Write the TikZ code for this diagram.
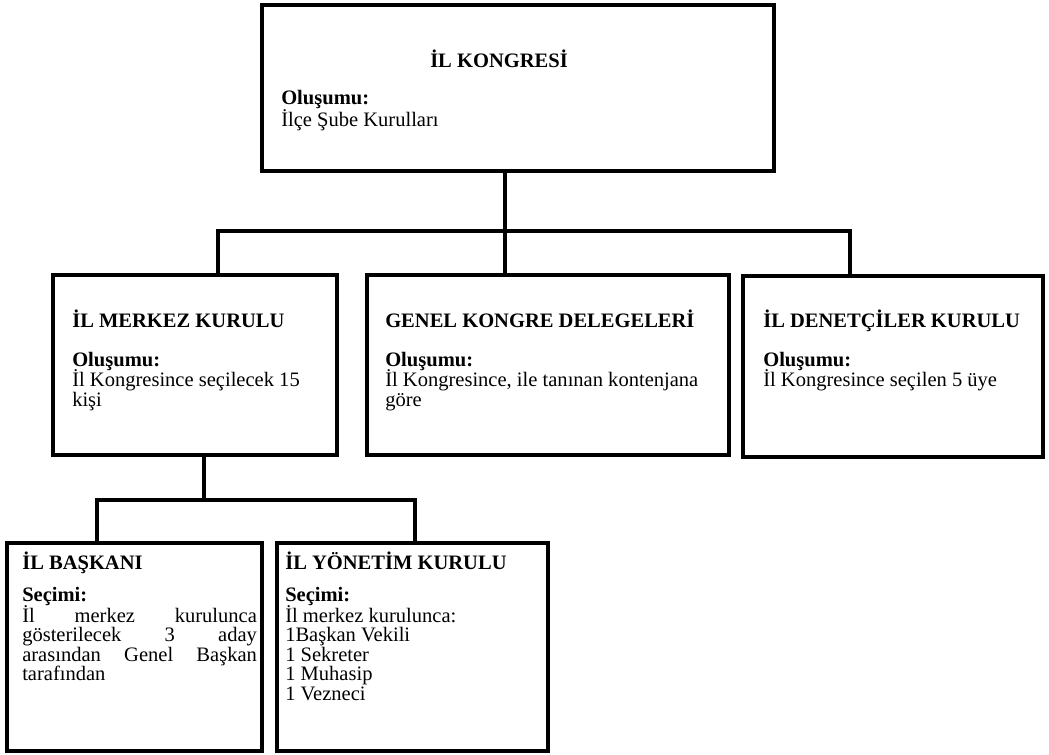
\documentclass[tikz,border=0pt]{standalone}
\usepackage{fontspec}
\setmainfont{Liberation Serif}
\usetikzlibrary{fit}
\begin{document}
\begin{tikzpicture}[x=0.75pt,y=-0.75pt,
  box/.style={draw, line width=2.3pt, inner sep=0pt},
  conn/.style={draw, line width=2.3pt},
  ttl/.style={font=\fontsize{15.4}{17}\selectfont\bfseries, anchor=base west, inner sep=0pt},
  lbl/.style={font=\fontsize{15.4}{17}\selectfont\bfseries, anchor=base west, inner sep=0pt},
  txt/.style={font=\fontsize{15.4}{17}\selectfont, anchor=base west, inner sep=0pt}
]
\useasboundingbox[fill=white] (0,0) rectangle (1049,754);

% boxes
\node[box, line width=3pt, fit={(262,5) (774,171)}] (top) {};
\node[box, fit={(53,275) (337,455)}] (mk) {};
\node[box, fit={(367,275) (729,455)}] (gk) {};
\node[box, fit={(743,276) (1043,457)}] (dk) {};
\node[box, fit={(7,543) (262,751)}] (bs) {};
\node[box, fit={(277,543) (548,751)}] (yk) {};

% texts: top
\node[ttl, anchor=base] (t0) at (499,67) {İL KONGRESİ};
\node[lbl] (t0a) at (281,104) {Oluşumu:};
\node[txt] (t0b) at (281,126) {İlçe Şube Kurulları};

% il merkez kurulu
\node[ttl] (t1) at (72,327) {İL MERKEZ KURULU};
\node[lbl] (t1a) at (72,366) {Oluşumu:};
\node[txt] (t1b) at (72,386) {İl Kongresince seçilecek 15};
\node[txt] (t1c) at (72,406) {kişi};

% genel kongre delegeleri
\node[ttl] (t2) at (385,327) {GENEL KONGRE DELEGELERİ};
\node[lbl] (t2a) at (385,366) {Oluşumu:};
\node[txt] (t2b) at (385,386) {İl Kongresince, ile tanınan kontenjana};
\node[txt] (t2c) at (385,406) {göre};

% il denetciler kurulu
\node[ttl] (t3) at (763,327) {İL DENETÇİLER KURULU};
\node[lbl] (t3a) at (763,366) {Oluşumu:};
\node[txt] (t3b) at (763,386) {İl Kongresince seçilen 5 üye};

% il baskani
\node[ttl] (t4) at (22,569) {İL BAŞKANI};
\node[lbl] (t4a) at (22,601) {Seçimi:};
\node[txt] (t4b) at (22,622) {\makebox[176pt][s]{İl merkez kurulunca}};
\node[txt] (t4c) at (22,641.5) {\makebox[176pt][s]{gösterilecek 3 aday}};
\node[txt] (t4d) at (22,661) {\makebox[176pt][s]{arasından Genel Başkan}};
\node[txt] (t4e) at (22,680.5) {tarafından};

% il yonetim kurulu
\node[ttl] (t5) at (285,569) {İL YÖNETİM KURULU};
\node[lbl] (t5a) at (285,601) {Seçimi:};
\node[txt] (t5b) at (285,622) {İl merkez kurulunca:};
\node[txt] (t5c) at (285,641.5) {1Başkan Vekili};
\node[txt] (t5d) at (285,661) {1 Sekreter};
\node[txt] (t5e) at (285,680.5) {1 Muhasip};
\node[txt] (t5f) at (285,700) {1 Vezneci};

% connectors
\coordinate (j1) at (505,231);
\coordinate (hL) at (218,231);
\coordinate (hR) at (850,231);
\draw[conn] (top.south -| j1) -- (j1);
\draw[conn] (mk.north -| hL) -- (hL) -- (hR) -- (dk.north -| hR);
\draw[conn] (j1) -- (gk.north -| j1);

\coordinate (j2) at (204,500);
\coordinate (lL) at (97,500);
\coordinate (lR) at (415,500);
\draw[conn] (mk.south -| j2) -- (j2);
\draw[conn] (bs.north -| lL) -- (lL) -- (lR) -- (yk.north -| lR);
\end{tikzpicture}
\end{document}
